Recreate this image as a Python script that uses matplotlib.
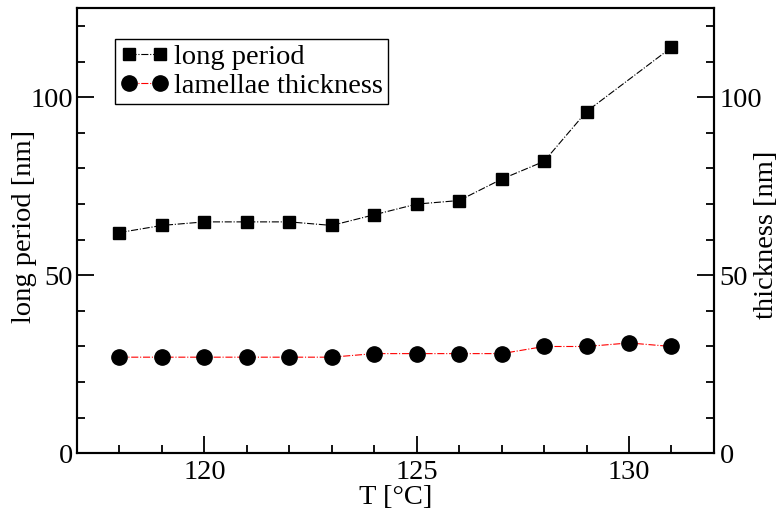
import numpy as np
import matplotlib
matplotlib.use("Agg")
import matplotlib.pyplot as plt

plt.rcParams['font.family'] = ['Liberation Serif', 'DejaVu Serif']

# data
T_long = [118, 119, 120, 121, 122, 123, 124, 125, 126, 127, 128, 129, 131]
long_period = [62, 64, 65, 65, 65, 64, 67, 70, 71, 77, 82, 96, 114]
T_lam = [118, 119, 120, 121, 122, 123, 124, 125, 126, 127, 128, 129, 130, 131]
thickness = [27, 27, 27, 27, 27, 27, 28, 28, 28, 28, 30, 30, 31, 30]

fs = 20.5

fig = plt.figure(figsize=(7.79, 5.16), dpi=100)
ax = fig.add_axes([0.0988, 0.1215, 0.8177, 0.8625])
ax2 = ax.twinx()

l1, = ax.plot(T_long, long_period, color='black', ls='-.', lw=0.8,
              marker='s', ms=9, mfc='black', mec='black', label='long period')
l2, = ax2.plot(T_lam, thickness, color='red', ls='-.', lw=0.8,
               marker='o', ms=11, mfc='black', mec='black', label='lamellae thickness')

for a in (ax, ax2):
    a.set_xlim(117, 132)
    a.set_ylim(0, 125)
    a.set_yticks([0, 50, 100])
    a.set_yticks(np.arange(0, 125, 10), minor=True)
    for s in a.spines.values():
        s.set_linewidth(1.5)

ax.set_xticks([120, 125, 130])
ax.set_xticks(np.arange(118, 132, 1), minor=True)
ax.tick_params(which='both', direction='in', top=False, right=False, labelsize=fs, width=1.3)
ax.tick_params(which='major', length=12)
ax.tick_params(which='minor', length=6)
ax.tick_params(axis='x', which='major', pad=5)
ax.tick_params(axis='y', which='major', pad=3)
ax2.tick_params(which='both', direction='in', left=False, right=True, labelsize=fs, width=1.3)
ax2.tick_params(which='major', length=12, pad=4)
ax2.tick_params(which='minor', length=6)

ax.set_xlabel('T [°C]', fontsize=fs, va='center')
ax.xaxis.set_label_coords(0.5, -0.1)
ax.set_ylabel('long period [nm]', fontsize=fs, va='center')
ax.yaxis.set_label_coords(-0.082, 0.51)
ax2.set_ylabel('thickness [nm]', fontsize=fs, va='center', rotation=90)
ax2.yaxis.set_label_coords(1.083, 0.49)

leg = ax.legend(handles=[l1, l2], loc='upper left', bbox_to_anchor=(0.06, 0.93),
                fontsize=fs, numpoints=2, handlelength=1.7, handletextpad=0.2,
                borderpad=0.18, labelspacing=0.1, borderaxespad=0, fancybox=False,
                framealpha=1)
leg.get_frame().set_edgecolor('black')
leg.get_frame().set_linewidth(1.0)

fig.savefig('out.png', dpi=100)
